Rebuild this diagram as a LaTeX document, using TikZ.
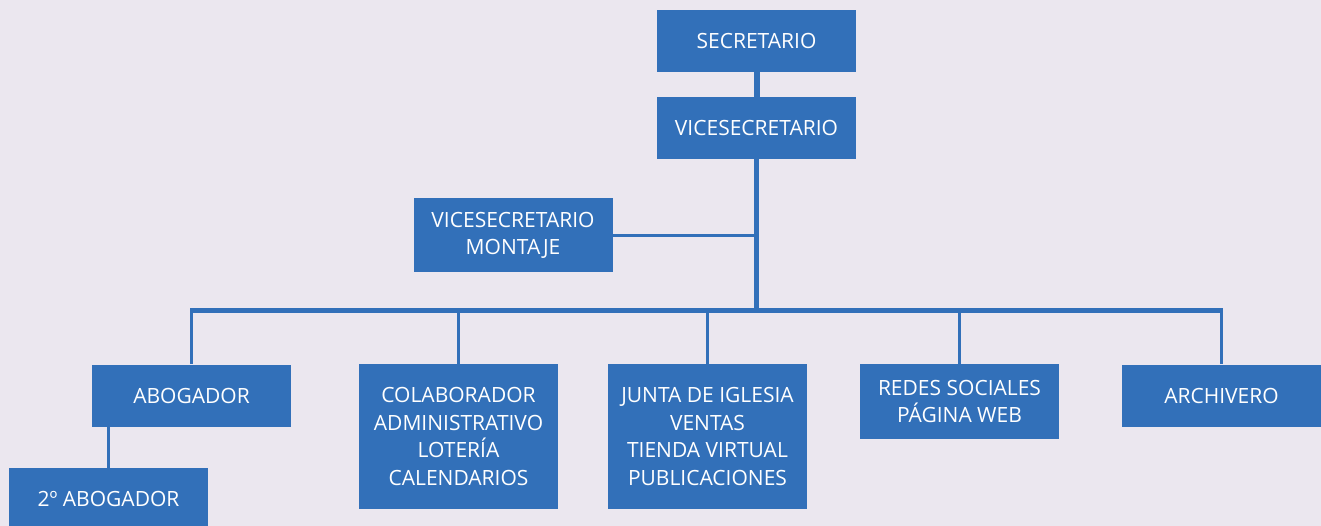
\documentclass[tikz,border=0pt]{standalone}
\usepackage{fontspec}
\setmainfont{Open Sans}
\usepackage{xcolor}
\definecolor{orgblue}{RGB}{50,112,185}
\definecolor{orgback}{RGB}{235,231,239}

\begin{document}
\begin{tikzpicture}[x=1pt, y=-1pt,
    box/.style={fill=orgblue, text=white, align=center, inner sep=0pt, minimum width=199pt, minimum height=62pt, font=\fontsize{21}{27.6}\selectfont},
    link/.style={draw=orgblue, line width=3pt}]
    \fill[orgback] (0,0) rectangle (1321,526);
    \useasboundingbox (0,0) rectangle (1321,526);
    \node[box] (secretario) at (756.5,41) {SECRETARIO};
    \node[box] (vice) at (756.5,128) {VICESECRETARIO};
    \node[box, minimum height=74pt] (montaje) at (513,235.5) {VICESECRETARIO\\MONTAJE};
    \node[box] (abogador) at (191.5,395.5) {ABOGADOR};
    \node[box, minimum height=145pt] (colaborador) at (458.5,436.5) {COLABORADOR\\ADMINISTRATIVO\\LOTERÍA\\CALENDARIOS};
    \node[box, minimum height=145pt] (junta) at (707.5,436.5) {JUNTA DE IGLESIA\\VENTAS\\TIENDA VIRTUAL\\PUBLICACIONES};
    \node[box, minimum height=75pt] (redes) at (959.5,401.5) {REDES SOCIALES\\PÁGINA WEB};
    \node[box] (archivero) at (1221.5,395.5) {ARCHIVERO};
    \node[box] (abogador2) at (108.5,499) {2º ABOGADOR};
    \coordinate (bus) at (756.5,310.5);
    \draw[link, line width=6pt] (secretario) -- (vice);
    \draw[link, line width=4.5pt] (vice) -- (bus);
    \draw[link] (montaje.east) -- (montaje.east -| vice.south);
    \draw[link, line width=5pt, shorten <=-1.5pt, shorten >=-1.5pt] (abogador.north |- bus) -- (archivero.north |- bus);
    \foreach \n in {abogador, colaborador, junta, redes, archivero}
        \draw[link] (\n.north |- bus) -- (\n.north);
    \draw[link] (abogador2.north |- abogador.south) -- (abogador2.north);
\end{tikzpicture}
\end{document}
